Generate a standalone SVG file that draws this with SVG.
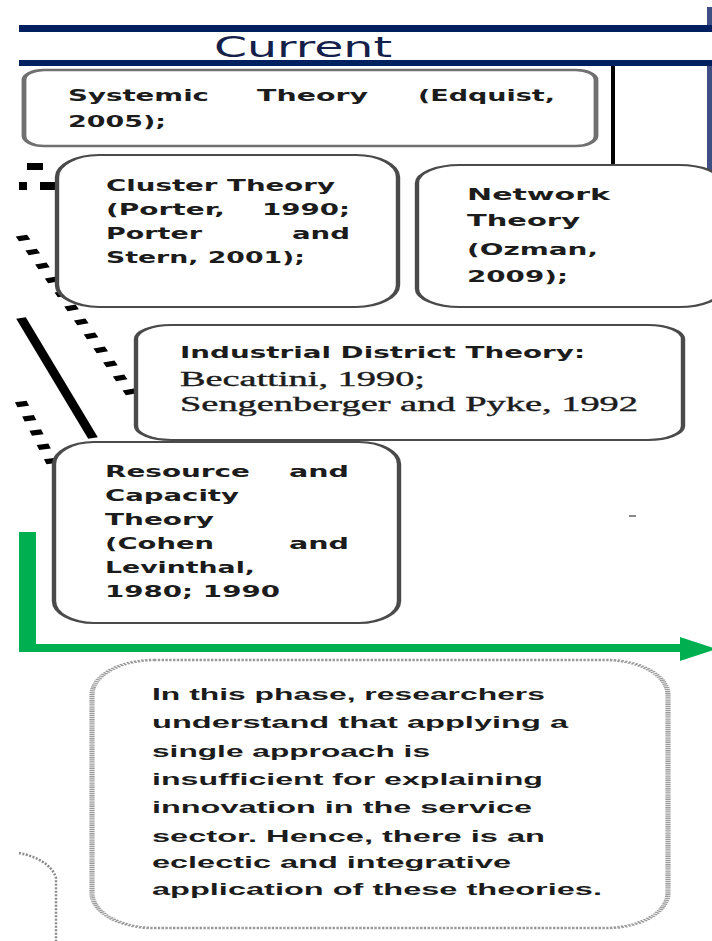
<svg xmlns="http://www.w3.org/2000/svg" width="712" height="941" viewBox="0 0 712 941">
  <style>
    .box { fill: #ffffff; stroke: #4a4a4a; stroke-width: 2.2; }
    .box-soft { fill: #ffffff; stroke: #707070; stroke-width: 2.4; }
    .box-note { fill: #ffffff; stroke: #9a9a9a; stroke-width: 2.6; stroke-dasharray: 1.2 0.7; }
    .t { font-family: "DejaVu Sans", "Liberation Sans", Arial, sans-serif; font-weight: bold; font-size: 16.5px; fill: #1c1c1c; }
    .n { font-family: "Liberation Sans", Arial, sans-serif; font-weight: bold; font-size: 17px; fill: #1c1c1c; }
    .s { font-family: "Liberation Serif", "Times New Roman", serif; font-size: 20px; fill: #1c1c1c; stroke: #1c1c1c; stroke-width: 0.35; }
    .title { font-family: "DejaVu Sans", "Liberation Sans", Arial, sans-serif; font-size: 28px; fill: #14204a; }
    .navy { fill: #002060; }
    .navy-edge { fill: #3d4f85; }
    .dash { fill: none; stroke: #000000; stroke-width: 6; }
    .green { fill: #00b050; }
  </style>

  <!-- header rules and title -->
  <g id="header">
    <rect class="navy-edge" x="707" y="7" width="5" height="20"/>
    <rect class="navy" x="19" y="25" width="693" height="7"/>
    <rect class="navy" x="19" y="60" width="693" height="6"/>
    <rect class="navy-edge" x="707" y="66" width="5" height="107"/>
    <text class="title" x="214" y="57" textLength="178" lengthAdjust="spacingAndGlyphs">Current</text>
  </g>

  <!-- connectors -->
  <g id="connectors">
    <rect x="611" y="66" width="4" height="100" fill="#000000"/>
    <rect x="27" y="163" width="16" height="7" fill="#000000"/>
    <rect x="19" y="182" width="8" height="8" fill="#000000"/>
    <rect x="40" y="182" width="17" height="8" fill="#000000"/>
    <g transform="scale(2,1)">
      <line class="dash" x1="10.68" y1="235.64" x2="65.82" y2="394.36" stroke-dasharray="5 9.8"/>
      <line x1="10.5" y1="318" x2="46.5" y2="438" stroke="#000000" stroke-width="5"/>
      <line class="dash" x1="10.38" y1="401.58" x2="26.12" y2="463.42" stroke-dasharray="5 9.7"/>
    </g>
    <rect class="green" x="19" y="532" width="17" height="120"/>
    <rect class="green" x="19" y="644" width="664" height="8"/>
    <polygon class="green" points="680,637 717,649 680,661"/>
    <path d="M19,853 C35,856 52,864 56,878 L56,941" fill="none" stroke="#8a8a8a" stroke-width="2.5" stroke-dasharray="2 1.5"/>
    <rect x="629" y="515" width="7" height="2" fill="#888888"/>
  </g>

  <g id="systemic">
    <rect class="box-soft" transform="scale(2,1)" x="12" y="70" width="286" height="76" rx="10" ry="10"/>
    <text class="t" x="68" y="101" textLength="141" lengthAdjust="spacingAndGlyphs">Systemic</text>
    <text class="t" x="257" y="101" textLength="111" lengthAdjust="spacingAndGlyphs">Theory</text>
    <text class="t" x="418" y="101" textLength="137" lengthAdjust="spacingAndGlyphs">(Edquist,</text>
    <text class="t" x="68" y="127" textLength="98" lengthAdjust="spacingAndGlyphs">2005);</text>
  </g>

  <g id="cluster">
    <rect class="box" transform="scale(2,1)" x="28.5" y="155" width="170.5" height="152" rx="21" ry="22"/>
    <text class="t" x="106" y="191" textLength="229" lengthAdjust="spacingAndGlyphs">Cluster Theory</text>
    <text class="t" x="106" y="215" textLength="119" lengthAdjust="spacingAndGlyphs">(Porter,</text>
    <text class="t" x="262" y="215" textLength="88" lengthAdjust="spacingAndGlyphs">1990;</text>
    <text class="t" x="106" y="239" textLength="96" lengthAdjust="spacingAndGlyphs">Porter</text>
    <text class="t" x="292" y="239" textLength="58" lengthAdjust="spacingAndGlyphs">and</text>
    <text class="t" x="106" y="263" textLength="199" lengthAdjust="spacingAndGlyphs">Stern, 2001);</text>
  </g>

  <g id="network">
    <rect class="box" transform="scale(2,1)" x="208.5" y="165" width="152.5" height="142" rx="21.5" ry="18"/>
    <text class="t" x="467" y="200" textLength="143" lengthAdjust="spacingAndGlyphs">Network</text>
    <text class="t" x="467" y="226" textLength="113" lengthAdjust="spacingAndGlyphs">Theory</text>
    <text class="t" x="467" y="255" textLength="131" lengthAdjust="spacingAndGlyphs">(Ozman,</text>
    <text class="t" x="467" y="282" textLength="101" lengthAdjust="spacingAndGlyphs">2009);</text>
  </g>

  <g id="industrial">
    <rect class="box" transform="scale(2,1)" x="68" y="325" width="273.5" height="115" rx="17.5" ry="14"/>
    <text class="t" x="180" y="358" textLength="405" lengthAdjust="spacingAndGlyphs">Industrial District Theory:</text>
    <text class="s" x="180" y="386" textLength="245" lengthAdjust="spacingAndGlyphs">Becattini, 1990;</text>
    <text class="s" x="180" y="411" textLength="458" lengthAdjust="spacingAndGlyphs">Sengenberger and Pyke, 1992</text>
  </g>

  <g id="resource">
    <rect class="box" transform="scale(2,1)" x="27" y="442" width="172.5" height="181" rx="20" ry="22"/>
    <text class="t" x="105" y="477" textLength="145" lengthAdjust="spacingAndGlyphs">Resource</text>
    <text class="t" x="289" y="477" textLength="60" lengthAdjust="spacingAndGlyphs">and</text>
    <text class="t" x="105" y="501" textLength="134" lengthAdjust="spacingAndGlyphs">Capacity</text>
    <text class="t" x="105" y="525" textLength="109" lengthAdjust="spacingAndGlyphs">Theory</text>
    <text class="t" x="105" y="549" textLength="109" lengthAdjust="spacingAndGlyphs">(Cohen</text>
    <text class="t" x="289" y="549" textLength="60" lengthAdjust="spacingAndGlyphs">and</text>
    <text class="t" x="105" y="573" textLength="150" lengthAdjust="spacingAndGlyphs">Levinthal,</text>
    <text class="t" x="105" y="597" textLength="175" lengthAdjust="spacingAndGlyphs">1980; 1990</text>
  </g>

  <g id="phase-note">
    <rect class="box-note" transform="scale(2,1)" x="46" y="660" width="288" height="268" rx="31" ry="35"/>
    <text class="n" x="152" y="700" textLength="393" lengthAdjust="spacingAndGlyphs">In this phase, researchers</text>
    <text class="n" x="152" y="728" textLength="416" lengthAdjust="spacingAndGlyphs">understand that applying a</text>
    <text class="n" x="152" y="757" textLength="278" lengthAdjust="spacingAndGlyphs">single approach is</text>
    <text class="n" x="152" y="785" textLength="391" lengthAdjust="spacingAndGlyphs">insufficient for explaining</text>
    <text class="n" x="152" y="813" textLength="380" lengthAdjust="spacingAndGlyphs">innovation in the service</text>
    <text class="n" x="152" y="842" textLength="393" lengthAdjust="spacingAndGlyphs">sector. Hence, there is an</text>
    <text class="n" x="152" y="868" textLength="359" lengthAdjust="spacingAndGlyphs">eclectic and integrative</text>
    <text class="n" x="152" y="895" textLength="450" lengthAdjust="spacingAndGlyphs">application of these theories.</text>
  </g>
</svg>
